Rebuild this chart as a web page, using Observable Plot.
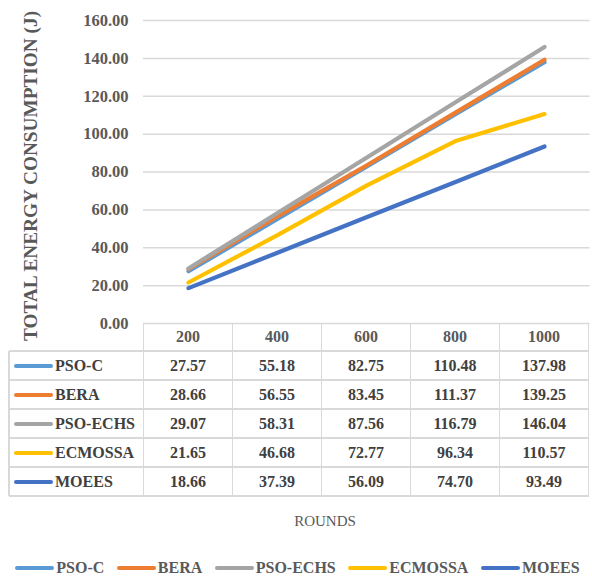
<!DOCTYPE html>
<html>
<head>
<meta charset="utf-8">
<script src="https://cdn.jsdelivr.net/npm/d3@7"></script>
<script src="https://cdn.jsdelivr.net/npm/@observablehq/plot@0.6"></script>
<style>
  html, body { margin: 0; padding: 0; background: #fff; }
  #chart { position: relative; width: 592px; height: 579px; font-family: "Liberation Serif", "Times New Roman", serif; overflow: hidden; }
  .abs { position: absolute; }
  .cell { position: absolute; display: flex; align-items: center; justify-content: center; font-weight: bold; font-size: 16px; color: #404040; white-space: nowrap; }
  .hl { position: absolute; height: 1.5px; background: #d9d9d9; }
  .vl { position: absolute; width: 1.5px; background: #d9d9d9; }
  .sw { display: inline-block; width: 39px; height: 4px; border-radius: 2px; }
</style>
</head>
<body>
<div id="chart"></div>
<script>
const rounds = [200, 400, 600, 800, 1000];
const seriesNames = ["PSO-C", "BERA", "PSO-ECHS", "ECMOSSA", "MOEES"];
const seriesColors = ["#5B9BD5", "#ED7D31", "#A5A5A5", "#FFC000", "#4472C4"];
const psoC    = [27.57, 55.18, 82.75, 110.48, 137.98];
const bera    = [28.66, 56.55, 83.45, 111.37, 139.25];
const psoEchs = [29.07, 58.31, 87.56, 116.79, 146.04];
const ecmossa = [21.65, 46.68, 72.77, 96.34, 110.57];
const moees   = [18.66, 37.39, 56.09, 74.70, 93.49];
const yTicks = [0, 20, 40, 60, 80, 100, 120, 140, 160];
const yTitle = "TOTAL ENERGY CONSUMPTION (J)";
const xTitle = "ROUNDS";

const seriesValues = [psoC, bera, psoEchs, ecmossa, moees];
const rows = [];
seriesNames.forEach((name, i) => rounds.forEach((r, j) => rows.push({series: name, round: r, value: seriesValues[i][j]})));

const chart = document.getElementById("chart");

const plot = Plot.plot({
  width: 592,
  height: 350,
  marginTop: 20,
  marginBottom: 27,
  marginLeft: 143,
  marginRight: 2.5,
  style: { fontFamily: "Liberation Serif, Times New Roman, serif", fontWeight: "bold", fontSize: "16.5px", color: "#595959", background: "transparent", overflow: "visible" },
  x: { type: "point", domain: rounds, padding: 0.5, axis: null },
  y: { domain: [0, 160], axis: null },
  color: { domain: seriesNames, range: seriesColors },
  marks: [
    Plot.gridY(yTicks, { stroke: "#d9d9d9", strokeOpacity: 1, strokeWidth: 1.5 }),
    Plot.axisY(yTicks, { label: null, tickSize: 0, tickPadding: 15, tickFormat: d3.format(".2f"), fill: "#595959", fontWeight: "bold", fontSize: 16.5 }),
    Plot.line(rows, { x: "round", y: "value", z: "series", stroke: "series", strokeWidth: 4.2, strokeLinecap: "round", strokeLinejoin: "round" }),
    Plot.text([yTitle], { frameAnchor: "left", textAnchor: "middle", dx: -113, dy: 4, rotate: -90, fill: "#595959", fontWeight: "bold", fontSize: 19.3, fontFamily: "Liberation Serif, Times New Roman, serif" })
  ]
});
plot.style.position = "absolute";
plot.style.left = "0px";
plot.style.top = "0px";
chart.appendChild(plot);

// Data table aligned to the plot's x scale
const xs = plot.scale("x");
const step = xs.apply(rounds[1]) - xs.apply(rounds[0]);
const colLeft = rounds.map(r => xs.apply(r) - step / 2);
const tableLeft = 9;
const tableRight = colLeft[colLeft.length - 1] + step;
const rowTops = [323, 351, 380, 409, 438, 467, 496];

function add(cls, css, html) {
  const d = document.createElement("div");
  d.className = cls;
  Object.assign(d.style, css);
  if (html !== undefined) d.innerHTML = html;
  chart.appendChild(d);
  return d;
}

// horizontal borders
rowTops.forEach((t, i) => {
  if (i === 0) return;
  add("hl", { left: tableLeft + "px", top: (t - 0.75) + "px", width: (tableRight - tableLeft) + "px" });
});
// vertical borders
add("vl", { left: (tableLeft - 0.75) + "px", top: rowTops[1] + "px", height: (rowTops[6] - rowTops[1]) + "px" });
colLeft.concat([tableRight]).forEach(x => {
  add("vl", { left: (x - 0.75) + "px", top: rowTops[0] + "px", height: (rowTops[6] - rowTops[0]) + "px" });
});

// header
rounds.forEach((r, j) => {
  add("cell", { left: colLeft[j] + "px", top: rowTops[0] + "px", width: step + "px", height: (rowTops[1] - rowTops[0]) + "px", color: "#595959" }, String(r));
});
// rows
seriesNames.forEach((name, i) => {
  const top = rowTops[i + 1], h = rowTops[i + 2] - top;
  add("cell", { left: "14px", top: top + "px", height: h + "px", justifyContent: "flex-start" },
    `<span class="sw" style="background:${seriesColors[i]}"></span><span style="margin-left:2px">${name}</span>`);
  rounds.forEach((r, j) => {
    add("cell", { left: colLeft[j] + "px", top: top + "px", width: step + "px", height: h + "px" }, d3.format(".2f")(seriesValues[i][j]));
  });
});

// x title
add("abs", { left: "0px", width: "650px", top: "513px", textAlign: "center", fontSize: "15px", color: "#595959" }, xTitle);

// legend
const leg = add("abs", { left: "0px", width: "595px", top: "557px", height: "22px", display: "flex", justifyContent: "center", alignItems: "center", gap: "12.5px", fontWeight: "bold", fontSize: "16px", color: "#595959" });
seriesNames.forEach((name, i) => {
  const it = document.createElement("div");
  it.style.display = "flex";
  it.style.alignItems = "center";
  it.innerHTML = `<span class="sw" style="background:${seriesColors[i]}"></span><span style="margin-left:2px">${name}</span>`;
  leg.appendChild(it);
});
</script>
</body>
</html>
